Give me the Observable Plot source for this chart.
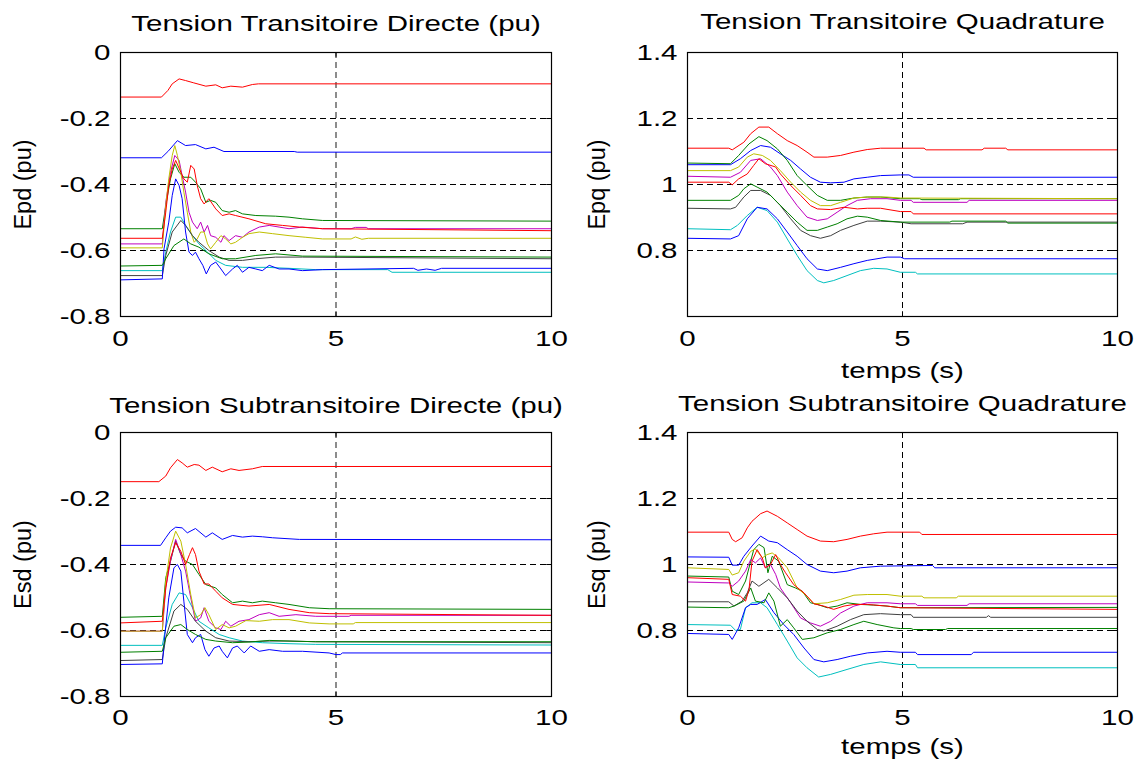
<!DOCTYPE html>
<html>
<head>
<meta charset="utf-8">
<script src="https://cdn.jsdelivr.net/npm/d3@7"></script>
<script src="https://cdn.jsdelivr.net/npm/@observablehq/plot@0.6"></script>
<style>
  html, body { margin: 0; padding: 0; background: #fff; }
  #fig { position: relative; width: 1140px; height: 762px; background: #fff; overflow: hidden; }
  #fig > div { position: absolute; }
  #fig svg { overflow: visible; }
</style>
</head>
<body>
<div id="fig"></div>
<script>
// ---------- axis ticks ----------
const timeTicks = [0, 5, 10];
const dTicks = [-0.8, -0.6, -0.4, -0.2, 0];
const qTicks = [0.8, 1, 1.2, 1.4];
const dGrid = [-0.6, -0.4, -0.2];
const qGrid = [0.8, 1, 1.2];
const timeGrid = [5];

// ---------- Tension Transitoire Directe : Epd (pu)  [temps (s), valeur] ----------
const epdB1 = [[0,-0.319],[0.95,-0.319],[1.1,-0.300],[1.32,-0.267],[1.51,-0.282],[1.74,-0.279],[1.98,-0.292],[2.17,-0.287],[2.40,-0.300],[4.03,-0.300],[4.1,-0.302],[10,-0.302]];
const epdG1 = [[0,-0.534],[0.97,-0.534],[1.05,-0.464],[1.16,-0.383],[1.26,-0.337],[1.36,-0.363],[1.47,-0.378],[1.63,-0.378],[1.74,-0.393],[1.86,-0.413],[1.98,-0.454],[2.09,-0.448],[2.21,-0.454],[2.36,-0.479],[2.52,-0.484],[2.67,-0.479],[2.83,-0.489],[3.14,-0.494],[3.60,-0.496],[3.91,-0.499],[4.22,-0.504],[4.69,-0.509],[10,-0.511]];
const epdR1 = [[0,-0.135],[0.95,-0.135],[1.1,-0.115],[1.2,-0.095],[1.36,-0.080],[1.51,-0.085],[1.7,-0.092],[1.98,-0.102],[2.21,-0.098],[2.36,-0.107],[2.56,-0.102],[2.83,-0.105],[3.06,-0.097],[3.2,-0.095],[10,-0.095]];
const epdC = [[0,-0.661],[0.97,-0.661],[1.05,-0.605],[1.16,-0.544],[1.28,-0.499],[1.40,-0.499],[1.51,-0.524],[1.67,-0.555],[1.82,-0.580],[2.02,-0.605],[2.21,-0.630],[2.44,-0.645],[2.83,-0.651],[3.37,-0.651],[3.91,-0.654],[4.53,-0.658],[6.2,-0.658],[6.3,-0.666],[10,-0.666]];
const epdM = [[0,-0.580],[0.97,-0.580],[1.05,-0.454],[1.16,-0.363],[1.26,-0.312],[1.36,-0.327],[1.43,-0.373],[1.51,-0.423],[1.59,-0.484],[1.67,-0.514],[1.78,-0.534],[1.86,-0.514],[1.94,-0.544],[2.02,-0.524],[2.09,-0.555],[2.21,-0.560],[2.33,-0.575],[2.40,-0.555],[2.52,-0.570],[2.67,-0.555],[2.83,-0.560],[2.98,-0.544],[3.22,-0.529],[3.45,-0.524],[3.68,-0.529],[3.91,-0.534],[4.22,-0.529],[4.69,-0.534],[5.35,-0.534],[5.45,-0.530],[5.7,-0.530],[5.75,-0.534],[10,-0.534]];
const epdY = [[0,-0.592],[0.97,-0.592],[1.05,-0.464],[1.12,-0.383],[1.20,-0.312],[1.26,-0.282],[1.32,-0.312],[1.40,-0.363],[1.47,-0.423],[1.55,-0.484],[1.63,-0.544],[1.71,-0.575],[1.78,-0.565],[1.86,-0.544],[1.94,-0.544],[2.02,-0.580],[2.09,-0.595],[2.21,-0.575],[2.33,-0.555],[2.44,-0.565],[2.56,-0.580],[2.67,-0.575],[2.83,-0.560],[2.98,-0.549],[3.22,-0.544],[3.53,-0.549],[3.91,-0.555],[4.30,-0.560],[4.69,-0.565],[5.35,-0.565],[5.45,-0.559],[5.6,-0.566],[5.75,-0.563],[10,-0.563]];
const epdK = [[0,-0.676],[0.97,-0.676],[1.05,-0.615],[1.20,-0.544],[1.40,-0.509],[1.51,-0.524],[1.67,-0.555],[1.82,-0.575],[2.05,-0.600],[2.29,-0.620],[2.52,-0.630],[2.83,-0.630],[3.14,-0.625],[3.60,-0.620],[4.22,-0.620],[10,-0.625]];
const epdB2 = [[0,-0.689],[0.97,-0.686],[1.01,-0.595],[1.12,-0.514],[1.20,-0.433],[1.28,-0.383],[1.36,-0.403],[1.43,-0.443],[1.51,-0.544],[1.59,-0.605],[1.67,-0.615],[1.74,-0.605],[1.82,-0.625],[1.91,-0.645],[1.99,-0.671],[2.09,-0.645],[2.21,-0.635],[2.33,-0.656],[2.44,-0.676],[2.60,-0.656],[2.71,-0.645],[2.83,-0.666],[2.98,-0.651],[3.14,-0.656],[3.29,-0.661],[3.45,-0.645],[3.68,-0.656],[3.91,-0.656],[4.22,-0.661],[4.69,-0.658],[6.8,-0.654],[6.9,-0.660],[7.1,-0.656],[7.3,-0.660],[7.45,-0.654],[10,-0.654]];
const epdG2 = [[0,-0.647],[0.97,-0.645],[1.05,-0.625],[1.24,-0.585],[1.47,-0.565],[1.63,-0.580],[1.82,-0.590],[2.05,-0.610],[2.36,-0.625],[2.67,-0.625],[3.14,-0.615],[3.60,-0.610],[4.22,-0.617],[10,-0.620]];
const epdR2 = [[0,-0.563],[0.97,-0.563],[1.05,-0.484],[1.12,-0.403],[1.20,-0.353],[1.28,-0.327],[1.40,-0.363],[1.47,-0.383],[1.55,-0.393],[1.63,-0.342],[1.71,-0.353],[1.78,-0.403],[1.86,-0.443],[1.94,-0.459],[2.05,-0.443],[2.21,-0.474],[2.36,-0.494],[2.52,-0.489],[2.67,-0.494],[2.98,-0.504],[3.37,-0.519],[3.76,-0.524],[4.15,-0.529],[4.69,-0.534],[10,-0.540]];

// ---------- Tension Transitoire Quadrature : Epq (pu) ----------
const epqB1 = [[0,1.060],[1.0,1.060],[1.23,1.078],[1.47,1.103],[1.70,1.118],[1.93,1.113],[2.16,1.093],[2.40,1.073],[2.63,1.047],[2.86,1.022],[3.09,1.007],[3.33,1.005],[3.64,1.007],[3.87,1.017],[4.18,1.022],[4.49,1.027],[4.95,1.029],[5.15,1.029],[5.25,1.022],[10,1.022]];
const epqG1 = [[0,1.065],[1.0,1.063],[1.19,1.088],[1.43,1.123],[1.66,1.145],[1.85,1.133],[2.09,1.108],[2.32,1.073],[2.55,1.027],[2.78,0.997],[3.02,0.967],[3.25,0.952],[3.56,0.952],[3.87,0.959],[4.18,0.962],[4.49,0.962],[4.95,0.957],[5.4,0.957],[5.45,0.954],[6.3,0.954],[6.35,0.957],[10,0.957]];
const epqR1 = [[0,1.110],[0.96,1.110],[1.04,1.105],[1.31,1.128],[1.47,1.154],[1.66,1.174],[1.89,1.174],[2.09,1.154],[2.32,1.133],[2.55,1.118],[2.78,1.098],[2.94,1.083],[3.25,1.083],[3.56,1.088],[3.87,1.098],[4.18,1.106],[4.49,1.110],[5.5,1.110],[5.55,1.105],[6.85,1.105],[6.9,1.110],[7.4,1.110],[7.45,1.105],[10,1.105]];
const epqC = [[0,0.866],[1.0,0.863],[1.16,0.876],[1.39,0.906],[1.62,0.931],[1.85,0.921],[2.09,0.886],[2.32,0.835],[2.55,0.785],[2.78,0.739],[3.02,0.709],[3.17,0.702],[3.40,0.709],[3.71,0.724],[4.02,0.739],[4.33,0.746],[4.64,0.744],[4.95,0.734],[5.3,0.734],[5.35,0.729],[10,0.729]];
const epqM = [[0,1.025],[1.0,1.022],[1.23,1.037],[1.47,1.073],[1.70,1.078],[1.93,1.053],[2.09,1.027],[2.32,0.977],[2.55,0.936],[2.78,0.901],[3.02,0.891],[3.25,0.896],[3.48,0.916],[3.71,0.936],[3.95,0.952],[4.26,0.957],[4.64,0.957],[4.95,0.952],[5.2,0.952],[5.25,0.946],[6.5,0.946],[6.55,0.952],[10,0.952]];
const epqY = [[0,1.042],[1.0,1.042],[1.19,1.053],[1.39,1.083],[1.54,1.093],[1.74,1.088],[1.93,1.073],[2.16,1.042],[2.40,1.007],[2.63,0.977],[2.86,0.952],[3.09,0.936],[3.33,0.936],[3.56,0.946],[3.87,0.959],[4.18,0.962],[4.64,0.962],[4.95,0.959],[10,0.957]];
const epqK = [[0,0.928],[1.0,0.926],[1.12,0.931],[1.31,0.962],[1.47,0.982],[1.70,0.982],[1.93,0.967],[2.16,0.936],[2.40,0.896],[2.63,0.861],[2.86,0.845],[3.09,0.837],[3.33,0.845],[3.56,0.861],[3.87,0.876],[4.18,0.889],[4.49,0.889],[4.95,0.886],[5.2,0.881],[6.4,0.881],[6.5,0.886],[10,0.886]];
const epqB2 = [[0,0.837],[1.0,0.835],[1.19,0.845],[1.39,0.896],[1.62,0.931],[1.85,0.926],[2.09,0.896],[2.32,0.856],[2.55,0.815],[2.78,0.775],[3.02,0.744],[3.25,0.739],[3.56,0.749],[3.87,0.760],[4.18,0.770],[4.64,0.780],[4.95,0.780],[5.05,0.775],[10,0.775]];
const epqG2 = [[0,0.952],[1.0,0.952],[1.19,0.967],[1.31,0.987],[1.47,1.002],[1.62,0.992],[1.85,0.977],[2.09,0.946],[2.32,0.916],[2.55,0.886],[2.78,0.861],[3.02,0.861],[3.25,0.871],[3.48,0.881],[3.71,0.896],[3.95,0.904],[4.18,0.901],[4.49,0.891],[4.95,0.886],[6.1,0.886],[6.15,0.889],[7.4,0.889],[7.45,0.883],[10,0.883]];
const epqR2 = [[0,1.007],[0.96,1.007],[1.04,0.999],[1.19,1.017],[1.39,1.032],[1.54,1.058],[1.66,1.078],[1.81,1.063],[2.05,1.053],[2.16,1.032],[2.40,0.997],[2.63,0.967],[2.86,0.936],[3.02,0.926],[3.33,0.924],[3.64,0.931],[3.95,0.926],[4.18,0.928],[4.49,0.928],[4.95,0.918],[5.2,0.918],[5.25,0.911],[10,0.911]];

// ---------- Tension Subtransitoire Directe : Esd (pu) ----------
const esdB1 = [[0,-0.342],[0.93,-0.342],[1.05,-0.319],[1.16,-0.299],[1.28,-0.287],[1.43,-0.289],[1.55,-0.304],[1.74,-0.291],[1.98,-0.317],[2.13,-0.304],[2.36,-0.324],[2.60,-0.312],[2.83,-0.317],[3.06,-0.314],[3.29,-0.316],[3.53,-0.319],[4.15,-0.324],[10,-0.325]];
const esdG1 = [[0,-0.560],[0.97,-0.557],[1.05,-0.440],[1.16,-0.390],[1.28,-0.329],[1.40,-0.370],[1.51,-0.390],[1.67,-0.400],[1.82,-0.430],[1.98,-0.461],[2.21,-0.471],[2.36,-0.491],[2.60,-0.516],[2.83,-0.511],[3.06,-0.516],[3.29,-0.511],[3.60,-0.516],[3.91,-0.521],[4.38,-0.531],[4.84,-0.534],[10,-0.536]];
const esdR1 = [[0,-0.149],[0.89,-0.149],[1.05,-0.132],[1.16,-0.107],[1.32,-0.082],[1.43,-0.092],[1.55,-0.105],[1.71,-0.097],[1.82,-0.099],[1.98,-0.115],[2.13,-0.105],[2.36,-0.119],[2.56,-0.110],[2.75,-0.115],[3.06,-0.110],[3.29,-0.103],[10,-0.103]];
const esdC = [[0,-0.645],[0.97,-0.645],[1.05,-0.592],[1.20,-0.521],[1.36,-0.486],[1.51,-0.491],[1.67,-0.531],[1.82,-0.572],[2.05,-0.592],[2.29,-0.612],[2.52,-0.622],[2.83,-0.632],[3.29,-0.637],[3.91,-0.640],[4.53,-0.642],[10,-0.644]];
const esdM = [[0,-0.602],[0.97,-0.602],[1.05,-0.471],[1.16,-0.390],[1.28,-0.324],[1.40,-0.370],[1.51,-0.420],[1.63,-0.501],[1.74,-0.572],[1.86,-0.562],[1.94,-0.531],[2.05,-0.572],[2.21,-0.592],[2.33,-0.597],[2.44,-0.572],[2.56,-0.587],[2.75,-0.572],[2.98,-0.567],[3.22,-0.552],[3.45,-0.546],[3.68,-0.557],[4.07,-0.552],[4.53,-0.557],[5.3,-0.557],[5.35,-0.554],[10,-0.554]];
const esdY = [[0,-0.602],[0.97,-0.602],[1.05,-0.450],[1.16,-0.350],[1.28,-0.299],[1.40,-0.329],[1.51,-0.400],[1.63,-0.491],[1.74,-0.562],[1.86,-0.552],[1.96,-0.531],[2.05,-0.552],[2.21,-0.597],[2.36,-0.582],[2.52,-0.592],[2.67,-0.587],[2.91,-0.570],[3.22,-0.572],[3.53,-0.567],[3.91,-0.567],[4.38,-0.577],[4.84,-0.580],[5.4,-0.580],[5.45,-0.576],[10,-0.576]];
const esdK = [[0,-0.691],[0.97,-0.688],[1.05,-0.622],[1.24,-0.541],[1.40,-0.521],[1.55,-0.536],[1.74,-0.572],[1.98,-0.602],[2.21,-0.622],[2.52,-0.632],[2.98,-0.634],[3.45,-0.632],[3.91,-0.632],[4.53,-0.634],[10,-0.637]];
const esdB2 = [[0,-0.703],[0.97,-0.701],[1.03,-0.612],[1.12,-0.501],[1.24,-0.410],[1.32,-0.400],[1.40,-0.420],[1.47,-0.511],[1.55,-0.612],[1.67,-0.637],[1.74,-0.622],[1.86,-0.612],[1.96,-0.658],[2.05,-0.678],[2.17,-0.653],[2.29,-0.647],[2.36,-0.663],[2.48,-0.683],[2.60,-0.653],[2.71,-0.647],[2.87,-0.668],[3.02,-0.647],[3.22,-0.663],[3.45,-0.658],[3.76,-0.663],[4.22,-0.663],[4.84,-0.668],[5.0,-0.673],[5.1,-0.673],[5.15,-0.668],[10,-0.668]];
const esdG2 = [[0,-0.666],[0.97,-0.663],[1.05,-0.622],[1.24,-0.587],[1.40,-0.582],[1.55,-0.597],[1.74,-0.612],[1.98,-0.627],[2.21,-0.632],[2.60,-0.637],[2.98,-0.635],[3.45,-0.630],[3.91,-0.632],[4.53,-0.634],[10,-0.634]];
const esdR2 = [[0,-0.577],[0.97,-0.572],[1.05,-0.471],[1.16,-0.380],[1.28,-0.334],[1.40,-0.360],[1.51,-0.400],[1.60,-0.370],[1.67,-0.349],[1.74,-0.370],[1.82,-0.420],[1.94,-0.459],[2.05,-0.459],[2.21,-0.481],[2.36,-0.501],[2.60,-0.521],[2.98,-0.526],[3.45,-0.521],[3.91,-0.536],[4.38,-0.546],[4.84,-0.549],[10,-0.554]];

// ---------- Tension Subtransitoire Quadrature : Esq (pu) ----------
const esqB1 = [[0,1.023],[0.96,1.022],[1.04,0.998],[1.19,0.998],[1.31,1.025],[1.50,1.056],[1.70,1.086],[1.89,1.071],[2.09,1.066],[2.32,1.045],[2.55,1.025],[2.78,1.000],[3.09,0.980],[3.40,0.975],[3.71,0.980],[4.02,0.990],[4.49,0.995],[5.7,0.997],[5.75,0.990],[10,0.990]];
const esqG1 = [[0,0.965],[0.96,0.962],[1.04,0.919],[1.19,0.909],[1.35,0.950],[1.47,1.010],[1.54,1.045],[1.66,1.061],[1.78,1.051],[1.87,0.975],[1.97,1.025],[2.12,1.010],[2.32,0.939],[2.51,0.929],[2.67,0.919],[2.86,0.884],[3.02,0.879],[3.25,0.869],[3.48,0.874],[3.71,0.884],[4.02,0.879],[4.33,0.877],[4.64,0.874],[4.95,0.869],[10,0.870]];
const esqR1 = [[0,1.098],[0.96,1.098],[1.04,1.076],[1.12,1.069],[1.27,1.081],[1.39,1.111],[1.50,1.131],[1.70,1.154],[1.85,1.162],[2.09,1.146],[2.32,1.126],[2.55,1.106],[2.78,1.086],[3.09,1.071],[3.40,1.069],[3.71,1.076],[4.02,1.086],[4.33,1.093],[4.64,1.098],[5.4,1.098],[5.45,1.091],[10,1.091]];
const esqC = [[0,0.818],[1.0,0.816],[1.12,0.800],[1.23,0.803],[1.35,0.869],[1.50,0.884],[1.70,0.884],[1.85,0.869],[2.09,0.818],[2.32,0.768],[2.55,0.717],[2.78,0.687],[3.05,0.659],[3.33,0.667],[3.71,0.682],[4.10,0.697],[4.49,0.705],[4.95,0.697],[5.3,0.697],[5.35,0.687],[10,0.687]];
const esqM = [[0,0.947],[0.96,0.944],[1.04,0.934],[1.19,0.950],[1.35,0.980],[1.47,1.015],[1.58,1.005],[1.70,1.020],[1.81,0.990],[1.93,1.000],[2.05,0.970],[2.16,0.929],[2.40,0.884],[2.63,0.838],[2.86,0.823],[3.09,0.813],[3.33,0.828],[3.56,0.853],[3.87,0.874],[4.18,0.884],[4.64,0.884],[4.95,0.881],[5.3,0.881],[5.35,0.876],[6.5,0.876],[6.55,0.881],[10,0.881]];
const esqY = [[0,0.990],[0.96,0.985],[1.04,0.968],[1.19,0.975],[1.31,1.010],[1.47,1.040],[1.58,1.047],[1.74,1.020],[1.85,1.030],[1.97,1.035],[2.12,1.020],[2.32,0.990],[2.55,0.929],[2.78,0.904],[2.94,0.881],[3.25,0.884],[3.56,0.894],[3.87,0.907],[4.18,0.909],[4.64,0.909],[4.95,0.904],[5.45,0.904],[5.5,0.899],[6.25,0.899],[6.3,0.904],[10,0.904]];
const esqK = [[0,0.887],[0.96,0.887],[1.08,0.874],[1.27,0.889],[1.39,0.914],[1.50,0.950],[1.66,0.934],[1.89,0.955],[2.09,0.929],[2.32,0.899],[2.55,0.859],[2.78,0.828],[3.02,0.803],[3.17,0.798],[3.48,0.813],[3.79,0.833],[4.10,0.848],[4.49,0.851],[4.95,0.848],[5.2,0.848],[5.25,0.840],[6.95,0.840],[7.0,0.845],[7.05,0.840],[10,0.840]];
const esqB2 = [[0,0.791],[0.96,0.788],[1.04,0.773],[1.19,0.808],[1.35,0.869],[1.47,0.879],[1.62,0.879],[1.81,0.894],[2.01,0.854],[2.24,0.818],[2.47,0.788],[2.71,0.747],[2.94,0.712],[3.17,0.705],[3.48,0.712],[3.79,0.722],[4.18,0.732],[4.64,0.737],[4.95,0.734],[5.3,0.734],[5.35,0.727],[6.6,0.727],[6.65,0.734],[10,0.734]];
const esqG2 = [[0,0.871],[0.96,0.869],[1.08,0.874],[1.31,0.889],[1.47,0.929],[1.58,0.889],[1.78,0.884],[1.89,0.914],[2.01,0.889],[2.16,0.813],[2.32,0.833],[2.47,0.808],[2.67,0.773],[2.94,0.778],[3.25,0.793],[3.56,0.803],[3.87,0.818],[4.10,0.828],[4.41,0.818],[4.80,0.808],[4.95,0.806],[5.2,0.806],[5.25,0.803],[6.0,0.803],[6.05,0.806],[10,0.806]];
const esqR2 = [[0,0.960],[0.96,0.955],[1.04,0.909],[1.23,0.904],[1.35,0.889],[1.43,0.924],[1.50,1.010],[1.62,1.045],[1.74,1.020],[1.81,0.990],[1.93,1.000],[2.05,1.030],[2.16,1.000],[2.28,0.975],[2.47,0.939],[2.71,0.914],[2.94,0.881],[3.17,0.874],[3.40,0.864],[3.64,0.874],[3.87,0.879],[4.18,0.879],[4.64,0.874],[4.95,0.869],[10,0.864]];

// ---------- styling ----------
const lineColors = ["#0000ff", "#008000", "#ff0000", "#00bfbf", "#bf00bf", "#bfbf00", "#404040", "#0000ff", "#008000", "#ff0000"];
const FONT = "'Liberation Sans', Arial, Helvetica, sans-serif";
const STRETCH = 1.34;
const FS = 22;
const FS_YLABEL = 23.5;

const panels = [
  {left: 0,   top: 0,   ml: 120, mr: 19, mt: 52, mb: 65, domain: [-0.8, 0], ticks: dTicks, grid: dGrid,
   title: "Tension Transitoire Directe (pu)", titleDy: -29, ylabel: "Epd (pu)", ylabelDx: -97, xlabel: null, xPad: 14,
   vgrid: {stroke: "#808080", w: 1.8}, series: [epdB1, epdG1, epdR1, epdC, epdM, epdY, epdK, epdB2, epdG2, epdR2]},
  {left: 570, top: 0,   ml: 117, mr: 23, mt: 52, mb: 65, domain: [0.6, 1.4], ticks: qTicks, grid: qGrid,
   title: "Tension Transitoire Quadrature", titleDy: -31, ylabel: "Epq (pu)", ylabelDx: -90, xlabel: "temps (s)", xlabelDy: 54, xPad: 14,
   vgrid: {stroke: "#000", w: 1}, series: [epqB1, epqG1, epqR1, epqC, epqM, epqY, epqK, epqB2, epqG2, epqR2]},
  {left: 0,   top: 381, ml: 120, mr: 19, mt: 51, mb: 66, domain: [-0.8, 0], ticks: dTicks, grid: dGrid,
   title: "Tension Subtransitoire Directe (pu)", titleDy: -27, ylabel: "Esd (pu)", ylabelDx: -97, xlabel: null, xPad: 13,
   vgrid: {stroke: "#808080", w: 1.8}, series: [esdB1, esdG1, esdR1, esdC, esdM, esdY, esdK, esdB2, esdG2, esdR2]},
  {left: 570, top: 381, ml: 117, mr: 23, mt: 51, mb: 66, domain: [0.6, 1.4], ticks: qTicks, grid: qGrid,
   title: "Tension Subtransitoire Quadrature", titleDy: -29, ylabel: "Esq (pu)", ylabelDx: -90, xlabel: "temps (s)", xlabelDy: 50, xPad: 13,
   vgrid: {stroke: "#000", w: 1}, series: [esqB1, esqG1, esqR1, esqC, esqM, esqY, esqK, esqB2, esqG2, esqR2]}
];

function stretchText(svg, k) {
  svg.querySelectorAll("text").forEach(t => {
    const tr = t.getAttribute("transform") || "";
    if (tr.includes("rotate")) return;
    if (tr) {
      t.setAttribute("transform", tr + ` scale(${k},1)`);
    } else {
      const x = +(t.getAttribute("x") || 0);
      t.setAttribute("transform", `translate(${x},0) scale(${k},1) translate(${-x},0)`);
    }
  });
}

const fig = document.getElementById("fig");
const fmt = d => String(d);

for (const p of panels) {
  const span = p.domain[1] - p.domain[0];
  const tickLenY = span * 0.018;
  const marks = [
    Plot.ruleY(p.grid, {stroke: "#000", strokeWidth: 1, strokeDasharray: "6,4"}),
    Plot.ruleX(timeGrid, {stroke: p.vgrid.stroke, strokeWidth: p.vgrid.w, strokeDasharray: "6,4"}),
    // inward ticks (MATLAB style)
    Plot.ruleY(p.ticks, {x1: 0, x2: 0.11, stroke: "#000"}),
    Plot.ruleY(p.ticks, {x1: 9.89, x2: 10, stroke: "#000"}),
    Plot.ruleX(timeTicks, {y1: p.domain[0], y2: p.domain[0] + tickLenY, stroke: "#000"}),
    Plot.ruleX(timeTicks, {y1: p.domain[1] - tickLenY, y2: p.domain[1], stroke: "#000"}),
    ...p.series.map((s, i) => Plot.line(s, {x: d => d[0], y: d => d[1], stroke: lineColors[i], strokeWidth: 1})),
    Plot.frame({stroke: "#000", strokeWidth: 1.2}),
    Plot.axisX({ticks: timeTicks, tickFormat: fmt, tickSize: 0, tickPadding: p.xPad, label: null, fontSize: FS}),
    Plot.axisY({ticks: p.ticks, tickFormat: fmt, tickSize: 0, tickPadding: 10, label: null, fontSize: FS}),
    Plot.text([p.title], {text: d => d, frameAnchor: "top", dy: p.titleDy, fontSize: FS, textAnchor: "middle", lineAnchor: "middle", fill: "#000"}),
    Plot.text([p.ylabel], {text: d => d, frameAnchor: "left", dx: p.ylabelDx, rotate: -90, fontSize: FS_YLABEL, textAnchor: "middle", lineAnchor: "middle", fill: "#000"})
  ];
  if (p.xlabel) {
    marks.push(Plot.text([p.xlabel], {text: d => d, frameAnchor: "bottom", dy: p.xlabelDy, fontSize: FS, textAnchor: "middle", lineAnchor: "middle", fill: "#000"}));
  }
  const svg = Plot.plot({
    width: 570,
    height: 381,
    marginLeft: p.ml,
    marginRight: p.mr,
    marginTop: p.mt,
    marginBottom: p.mb,
    style: {fontFamily: FONT, fontSize: FS + "px", background: "transparent", color: "#000", overflow: "visible"},
    x: {domain: [0, 10]},
    y: {domain: p.domain},
    marks
  });
  stretchText(svg, STRETCH);
  const holder = document.createElement("div");
  holder.style.left = p.left + "px";
  holder.style.top = p.top + "px";
  holder.appendChild(svg);
  fig.appendChild(holder);
}
</script>
</body>
</html>
